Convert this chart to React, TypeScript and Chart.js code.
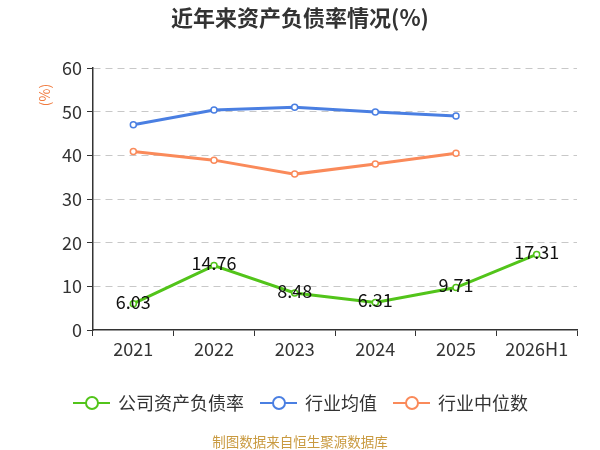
import { useEffect, useRef } from 'react'
import { Chart, ChartConfiguration, Plugin, registerables } from 'chart.js'

Chart.register(...registerables)

const categories = ['2021', '2022', '2023', '2024', '2025', '2026H1']
const companyRatio = [6.03, 14.76, 8.48, 6.31, 9.71, 17.31]
const industryAvg = [47.0, 50.4, 51.0, 49.9, 49.0, null]
const industryMedian = [40.9, 38.9, 35.7, 38.0, 40.5, null]
const seriesNames = ['公司资产负债率', '行业均值', '行业中位数']
const seriesColors = ['#52c41a', '#4a7fe2', '#fa8a5a']

const FONT = '"Noto Sans CJK SC", "Noto Sans", sans-serif'

// 数据标签 + 标题 + 图例 + 来源
const decorPlugin: Plugin = {
  id: 'decor',
  afterDatasetsDraw(chart) {
    const ctx = chart.ctx
    const meta = chart.getDatasetMeta(0)
    ctx.save()
    ctx.font = `18px ${FONT}`
    ctx.fillStyle = '#111'
    ctx.textAlign = 'center'
    ctx.textBaseline = 'middle'
    meta.data.forEach((pt, i) => {
      ctx.fillText(String(companyRatio[i]), pt.x, pt.y - 2)
    })
    ctx.restore()
  },
  afterDraw(chart) {
    const ctx = chart.ctx
    ctx.save()
    // title
    ctx.font = `bold 22px ${FONT}`
    ctx.fillStyle = '#333'
    ctx.textAlign = 'center'
    ctx.textBaseline = 'middle'
    ctx.fillText('近年来资产负债率情况(%)', 300, 18)

    // unit
    ctx.save()
    ctx.translate(45, 95)
    ctx.rotate(-Math.PI / 2)
    ctx.font = `14px ${FONT}`
    ctx.fillStyle = '#f07a3e'
    ctx.fillText('(%)', 0, 0)
    ctx.restore()

    // legend
    const starts = [73, 260, 393]
    ctx.font = `18px ${FONT}`
    ctx.textAlign = 'left'
    seriesNames.forEach((name, i) => {
      const x = starts[i]
      const y = 403
      ctx.strokeStyle = seriesColors[i]
      ctx.lineWidth = 2
      ctx.beginPath()
      ctx.moveTo(x, y)
      ctx.lineTo(x + 37, y)
      ctx.stroke()
      ctx.beginPath()
      ctx.arc(x + 19, y, 6, 0, Math.PI * 2)
      ctx.fillStyle = '#fff'
      ctx.fill()
      ctx.stroke()
      ctx.fillStyle = '#333'
      ctx.fillText(name, x + 45, y)
    })

    // source
    ctx.font = `13.5px ${FONT}`
    ctx.fillStyle = '#c99a40'
    ctx.textAlign = 'center'
    ctx.fillText('制图数据来自恒生聚源数据库', 300, 442)
    ctx.restore()
  },
}

export default function App() {
  const canvasRef = useRef<HTMLCanvasElement>(null)
  const chartRef = useRef<Chart | null>(null)

  useEffect(() => {
    document.body.style.margin = '0'
    if (!canvasRef.current) return
    const ctx = canvasRef.current.getContext('2d')
    if (!ctx) return
    if (chartRef.current) chartRef.current.destroy()

    const values = [companyRatio, industryAvg, industryMedian]

    const config: ChartConfiguration = {
      type: 'line',
      data: {
        labels: categories,
        datasets: seriesNames.map((name, i) => ({
          label: name,
          data: values[i] as (number | null)[],
          borderColor: seriesColors[i],
          backgroundColor: '#fff',
          borderWidth: 3,
          pointRadius: 3,
          pointBorderWidth: 1.5,
          pointBackgroundColor: '#fff',
          pointBorderColor: seriesColors[i],
          tension: 0,
          spanGaps: false,
        })),
      },
      options: {
        animation: false,
        responsive: true,
        maintainAspectRatio: false,
        layout: { padding: { top: 68, right: 23, bottom: 80, left: 0 } },
        plugins: {
          legend: { display: false },
          title: { display: false },
          tooltip: { enabled: false },
        },
        scales: {
          x: {
            offset: true,
            grid: {
              offset: true,
              drawOnChartArea: false,
              drawTicks: true,
              tickLength: 6,
              tickColor: '#333',
            },
            border: { color: '#333', width: 1.5 },
            ticks: { color: '#333', font: { size: 18, family: FONT }, padding: 2 },
            afterFit(scale) {
              scale.height = 40
            },
          },
          y: {
            min: 0,
            max: 60,
            ticks: { stepSize: 10, color: '#333', font: { size: 18, family: FONT }, padding: 5 },
            grid: {
              color: (c) => (c.tick && c.tick.value === 0 ? 'rgba(0,0,0,0)' : '#c8c8c8'),
              tickLength: 6,
              tickColor: '#333',
              tickBorderDash: [],
            },
            border: { color: '#333', width: 1.5, dash: [7, 5] },
            afterFit(scale) {
              scale.width = 93
            },
          },
        },
      },
      plugins: [decorPlugin],
    }

    chartRef.current = new Chart(ctx, config)
    return () => {
      chartRef.current?.destroy()
    }
  }, [])

  return (
    <div style={{ width: 600, height: 450, position: 'relative' }}>
      <canvas ref={canvasRef} />
    </div>
  )
}
